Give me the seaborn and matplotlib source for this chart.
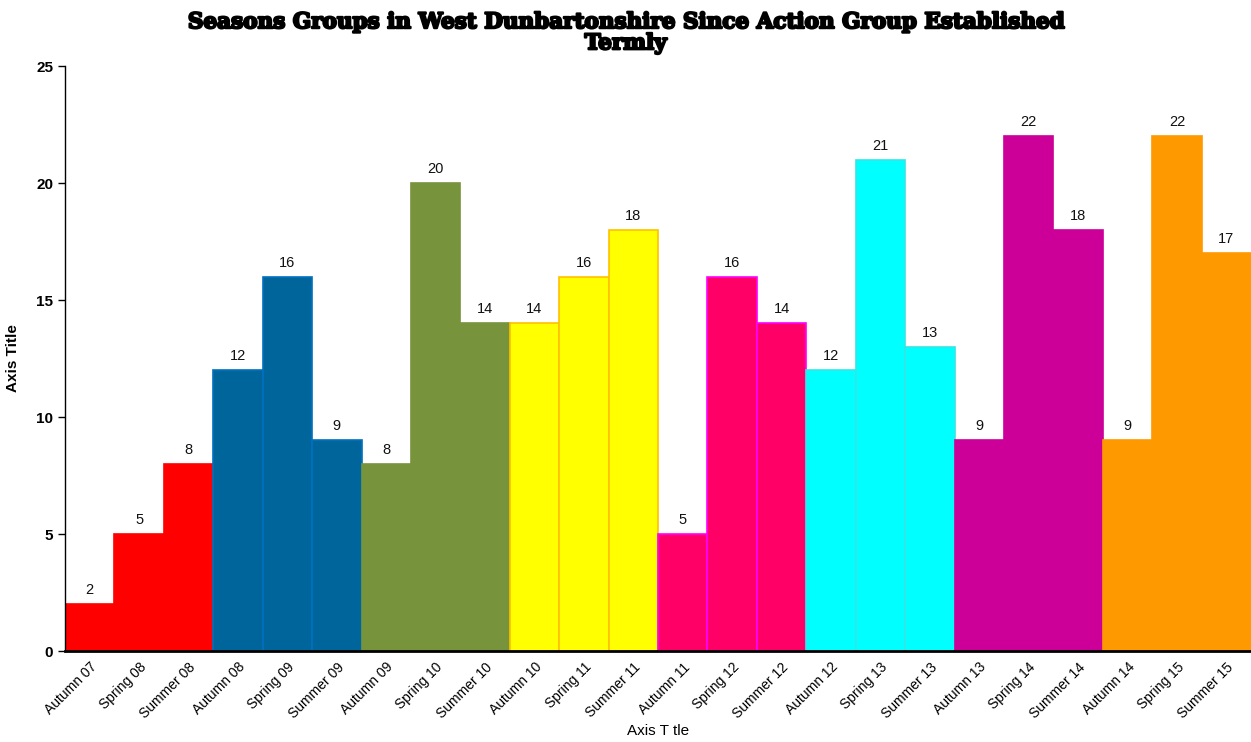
import matplotlib
matplotlib.use("Agg")
import matplotlib.pyplot as plt
import matplotlib.patheffects as pe
import seaborn as sns
import pandas as pd

terms = ["Autumn 07", "Spring 08", "Summer 08", "Autumn 08", "Spring 09", "Summer 09",
         "Autumn 09", "Spring 10", "Summer 10", "Autumn 10", "Spring 11", "Summer 11",
         "Autumn 11", "Spring 12", "Summer 12", "Autumn 12", "Spring 13", "Summer 13",
         "Autumn 13", "Spring 14", "Summer 14", "Autumn 14", "Spring 15", "Summer 15"]
groups_count = [2, 5, 8, 12, 16, 9, 8, 20, 14, 14, 16, 18, 5, 16, 14, 12, 21, 13, 9, 22, 18, 9, 22, 17]
school_year = ["07-08"] * 3 + ["08-09"] * 3 + ["09-10"] * 3 + ["10-11"] * 3 + \
              ["11-12"] * 3 + ["12-13"] * 3 + ["13-14"] * 3 + ["14-15"] * 3
year_colors = {"07-08": "#FF0000", "08-09": "#00659A", "09-10": "#77933C", "10-11": "#FFFF00",
               "11-12": "#FF0066", "12-13": "#00FFFF", "13-14": "#CC0099", "14-15": "#FF9900"}
edge_colors = {"07-08": "#FF0000", "08-09": "#0070C0", "09-10": "#77933C", "10-11": "#FFC000",
               "11-12": "#FF00FF", "12-13": "#33E6E6", "13-14": "#CC0099", "14-15": "#FF9900"}

df = pd.DataFrame({"term": terms, "count": groups_count, "year": school_year})

sns.set_style("white")
plt.rcParams['font.family'] = ['Liberation Sans', 'DejaVu Sans']
plt.rcParams['text.color'] = 'black'
plt.rcParams['axes.labelcolor'] = 'black'
plt.rcParams['xtick.color'] = 'black'
plt.rcParams['ytick.color'] = 'black'

fig = plt.figure(figsize=(12.51, 7.42), dpi=100)
ax = fig.add_axes([0.052, 0.1226, 0.948, 0.7884])

sns.barplot(data=df, x="term", y="count", hue="year", palette=year_colors,
            dodge=False, width=1.0, legend=False, ax=ax, saturation=1)

for patch, yr in zip(sorted(ax.patches, key=lambda p: p.get_x()), school_year):
    patch.set_edgecolor(edge_colors[yr])
    patch.set_linewidth(1.2)

for i, v in enumerate(groups_count):
    ax.text(i, v + 0.3, str(v), ha="center", va="bottom", fontsize=10.5, color="#111111")

ax.set_xlim(-0.5, len(terms) - 0.5)
ax.set_ylim(0, 25)
ax.set_yticks([0, 5, 10, 15, 20, 25])
ax.tick_params(axis="y", which="both", left=True, length=5, width=1, labelsize=11, color="black")
ax.tick_params(axis="x", bottom=False, labelsize=10, pad=3)
for lbl in ax.get_yticklabels():
    lbl.set_fontweight("bold")
ax.set_xticks(range(len(terms)))
ax.set_xticklabels(terms, rotation=45, ha="right", rotation_mode="anchor")

for s in ["top", "right"]:
    ax.spines[s].set_visible(False)
ax.spines["left"].set_color("black")
ax.spines["left"].set_linewidth(1)
ax.spines["bottom"].set_color("black")
ax.spines["bottom"].set_linewidth(2)

ax.set_ylabel("Axis Title", fontsize=11, fontweight="bold", labelpad=12)
ax.set_xlabel("Axis T tle", fontsize=11, labelpad=2)

fig.text(0.5, 0.985, "Seasons Groups in West Dunbartonshire Since Action Group Established\nTermly",
         ha="center", va="top", fontsize=15.5, fontweight="bold", family="DejaVu Serif",
         linespacing=0.95,
         path_effects=[pe.withStroke(linewidth=1.6, foreground="black")])

fig.savefig("out.png", dpi=100)
